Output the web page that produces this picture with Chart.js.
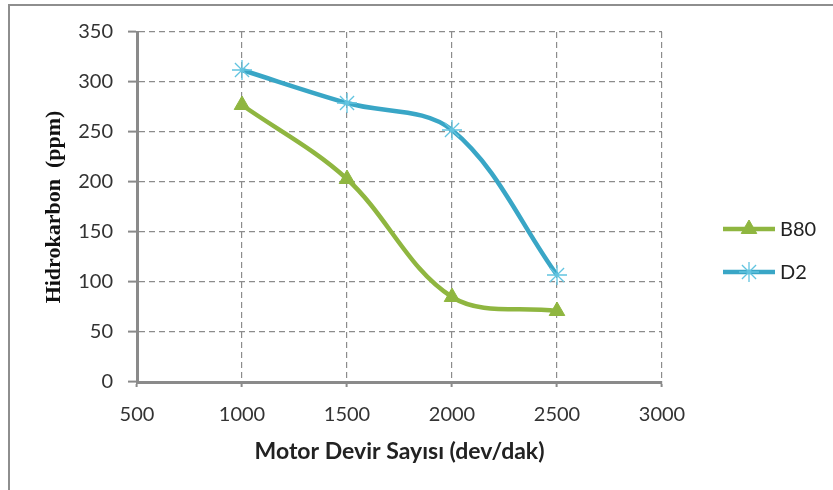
<!DOCTYPE html>
<html>
<head>
<meta charset="utf-8">
<script src="https://cdn.jsdelivr.net/npm/chart.js@4"></script>
<style>
  html, body { margin: 0; padding: 0; background: #fff; }
  #wrap { position: relative; width: 833px; height: 490px; overflow: hidden; }
  #frame { position: absolute; left: 8px; top: 4px; width: 900px; height: 600px;
           border-left: 2px solid #8e8e8e; border-top: 2px solid #8e8e8e; }
  canvas { position: absolute; left: 0; top: 0; }
</style>
</head>
<body>
<div id="wrap">
  <div id="frame"></div>
  <canvas id="c" width="833" height="490"></canvas>
</div>
<script>
const rpm = [1000, 1500, 2000, 2500];
const b80 = [277, 203, 85, 71];
const d2 = [312, 279, 252, 107];
const seriesNames = ['B80', 'D2'];
const xTitle = 'Motor Devir Sayısı (dev/dak)';
const yTitle = 'Hidrokarbon  (ppm)';
const xTicks = [500, 1000, 1500, 2000, 2500, 3000];
const yTicks = [0, 50, 100, 150, 200, 250, 300, 350];

const green = '#8fb640';
const blue = '#39a6c6';
const starBlue = '#62c4e0';

const toXY = (xs, ys) => xs.map((x, i) => ({ x: x, y: ys[i] }));

const legendPlugin = {
  id: 'sideLegend',
  afterDraw(chart) {
    const ctx = chart.ctx;
    const rows = [229, 272];
    chart.data.datasets.forEach((ds, i) => {
      const y = rows[i];
      ctx.save();
      ctx.strokeStyle = ds.borderColor;
      ctx.lineWidth = ds.borderWidth;
      ctx.beginPath();
      ctx.moveTo(723, y);
      ctx.lineTo(775, y);
      ctx.stroke();
      const opts = {
        pointStyle: ds.pointStyle, radius: ds.pointRadius, rotation: 0,
        borderWidth: ds.pointBorderWidth
      };
      ctx.fillStyle = ds.pointBackgroundColor;
      ctx.strokeStyle = ds.pointBorderColor;
      ctx.lineWidth = ds.pointBorderWidth;
      Chart.helpers.drawPoint(ctx, opts, 749, y);
      ctx.fillStyle = '#222';
      ctx.font = '20px Lato';
      ctx.textAlign = 'left';
      ctx.textBaseline = 'middle';
      ctx.fillText(ds.label, 780, y + 1);
      ctx.restore();
    });
  }
};

new Chart(document.getElementById('c'), {
  type: 'line',
  data: {
    datasets: [
      {
        label: seriesNames[0], data: toXY(rpm, b80),
        borderColor: green, borderWidth: 4.5, tension: 0.35,
        pointStyle: 'triangle', pointRadius: 9, pointBorderWidth: 1,
        pointBackgroundColor: green, pointBorderColor: green
      },
      {
        label: seriesNames[1], data: toXY(rpm, d2),
        borderColor: blue, borderWidth: 4.5, tension: 0.35,
        pointStyle: 'star', pointRadius: 10, pointBorderWidth: 1.3,
        pointBackgroundColor: starBlue, pointBorderColor: starBlue
      }
    ]
  },
  options: {
    responsive: false,
    animation: false,
    devicePixelRatio: 1,
    layout: { padding: { left: 0, right: 171, top: 32, bottom: 0 } },
    plugins: { legend: { display: false }, tooltip: { enabled: false } },
    scales: {
      x: {
        type: 'linear', min: xTicks[0], max: xTicks[xTicks.length - 1],
        afterBuildTicks(scale) { scale.ticks = xTicks.map(v => ({ value: v })); },
        afterFit(scale) { scale.height = 108; },
        grid: { color: '#8c8c8c', lineWidth: 1.2, tickLength: 5, tickColor: '#8a8a8a', tickWidth: 2 },
        border: { color: '#8a8a8a', width: 3, dash: [6, 4] },
        ticks: { font: { family: 'Lato', size: 20 }, color: '#333', padding: 16, maxRotation: 0,
                 callback: v => String(v) },
        title: { display: true, text: xTitle, color: '#222',
                 font: { family: 'Lato', size: 23, weight: 'bold' }, padding: { top: 0, bottom: 25 } }
      },
      y: {
        min: yTicks[0], max: yTicks[yTicks.length - 1],
        afterBuildTicks(scale) { scale.ticks = yTicks.map(v => ({ value: v })); },
        afterFit(scale) { scale.width = 137; },
        grid: { color: '#8c8c8c', lineWidth: 1.2, tickLength: 9, tickColor: '#8a8a8a', tickWidth: 2 },
        border: { color: '#8a8a8a', width: 3, dash: [6, 4] },
        ticks: { font: { family: 'Lato', size: 20 }, color: '#333', padding: 15,
                 callback: v => String(v) },
        title: { display: true, text: yTitle, color: '#111',
                 font: { family: 'Liberation Serif', size: 22, weight: 'bold' }, padding: { top: 41, bottom: 0 } }
      }
    }
  },
  plugins: [legendPlugin]
});
</script>
</body>
</html>
